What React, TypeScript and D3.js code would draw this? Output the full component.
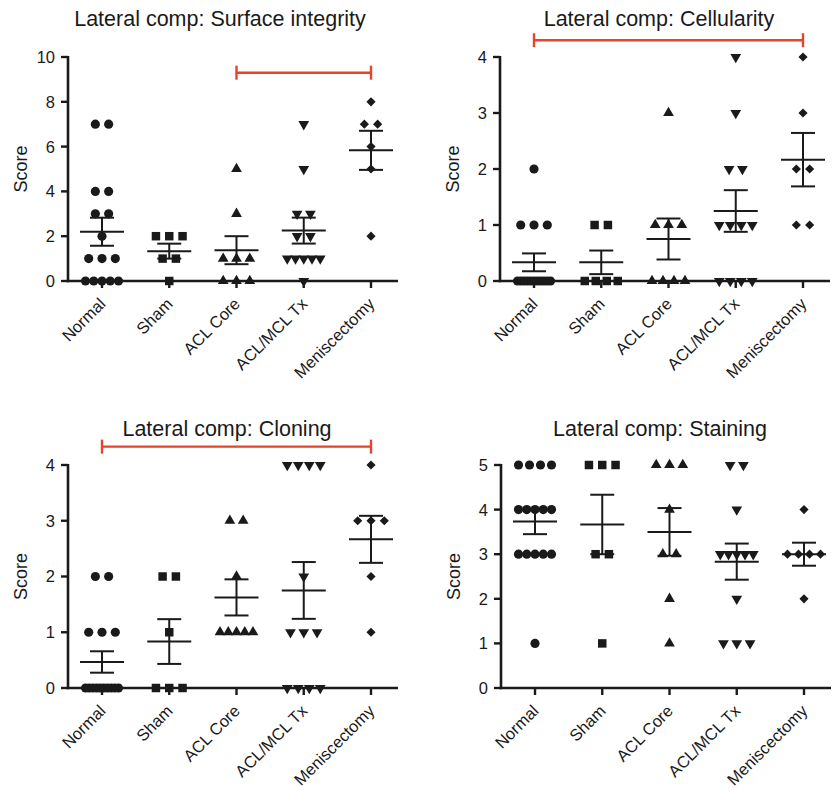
import React from "react";
import * as d3 from "d3";

const categories = ["Normal", "Sham", "ACL Core", "ACL/MCL Tx", "Meniscectomy"];

const surfaceIntegrity = [
  [7, 7, 4, 4, 3, 3, 2, 1, 1, 1, 0, 0, 0, 0, 0],
  [2, 2, 2, 1, 1, 0],
  [5, 3, 1, 1, 1, 0, 0, 0],
  [7, 5, 3, 3, 2, 2, 1, 1, 1, 1, 1, 0],
  [8, 7, 7, 6, 5, 2],
];
const cellularity = [
  [2, 1, 1, 1, 0, 0, 0, 0, 0, 0, 0, 0, 0, 0, 0],
  [1, 1, 0, 0, 0, 0],
  [3, 1, 1, 1, 0, 0, 0, 0],
  [4, 3, 2, 2, 1, 1, 1, 1, 0, 0, 0, 0],
  [4, 3, 2, 2, 1, 1],
];
const cloning = [
  [2, 2, 1, 1, 1, 0, 0, 0, 0, 0, 0, 0, 0, 0, 0],
  [2, 2, 1, 0, 0, 0],
  [3, 3, 2, 1, 1, 1, 1, 1],
  [4, 4, 4, 4, 2, 1, 1, 1, 0, 0, 0, 0],
  [4, 3, 3, 3, 2, 1],
];
const staining = [
  [5, 5, 5, 5, 4, 4, 4, 4, 4, 3, 3, 3, 3, 3, 1],
  [5, 5, 5, 3, 3, 1],
  [5, 5, 5, 4, 3, 3, 2, 1],
  [5, 5, 4, 3, 3, 3, 3, 3, 2, 1, 1, 1],
  [4, 3, 3, 3, 3, 2],
];

const titles = [
  "Lateral comp: Surface integrity",
  "Lateral comp: Cellularity",
  "Lateral comp: Cloning",
  "Lateral comp: Staining",
];
const yTicksSurface = [0, 2, 4, 6, 8, 10];
const yTicksCellularity = [0, 1, 2, 3, 4];
const yTicksCloning = [0, 1, 2, 3, 4];
const yTicksStaining = [0, 1, 2, 3, 4, 5];

// significance brackets: [fromCategoryIndex, toCategoryIndex, yValue]
const bracketSurface = [2, 4, 9.3];
const bracketCellularity = [0, 4, 4.3];
const bracketCloning = [0, 4, 4.33];

const FONT = "'Liberation Sans', Arial, Helvetica, sans-serif";
const RED = "#e8412c";
const INK = "#1a1a1a";

type Panel = {
  title: string;
  data: number[][];
  ticks: number[];
  bracket: number[] | null;
  x0: number;
  yTop: number;
  yBot: number;
  titleX: number;
  titleY: number;
};

const panels: Panel[] = [
  { title: titles[0], data: surfaceIntegrity, ticks: yTicksSurface, bracket: bracketSurface, x0: 68, yTop: 57, yBot: 281, titleX: 220, titleY: 26 },
  { title: titles[1], data: cellularity, ticks: yTicksCellularity, bracket: bracketCellularity, x0: 500, yTop: 57, yBot: 281, titleX: 659, titleY: 26 },
  { title: titles[2], data: cloning, ticks: yTicksCloning, bracket: bracketCloning, x0: 68, yTop: 465, yBot: 688, titleX: 227, titleY: 436 },
  { title: titles[3], data: staining, ticks: yTicksStaining, bracket: null, x0: 501, yTop: 465, yBot: 688, titleX: 660, titleY: 436 },
];

const symbolPaths = [
  { path: d3.symbol(d3.symbolCircle, 66)() as string, rot: 0 },
  { path: d3.symbol(d3.symbolSquare, 72)() as string, rot: 0 },
  { path: d3.symbol(d3.symbolTriangle, 50)() as string, rot: 0 },
  { path: d3.symbol(d3.symbolTriangle, 50)() as string, rot: 180 },
  { path: d3.symbol(d3.symbolSquare, 42)() as string, rot: 45 },
];

function offsets(n: number): number[] {
  const spacing = n > 1 ? Math.min(13.3, 33 / (n - 1)) : 0;
  return d3.range(n).map((i) => (i - (n - 1) / 2) * spacing);
}

function PanelView({ p }: { p: Panel }) {
  const maxV = p.ticks[p.ticks.length - 1];
  const y = d3.scaleLinear().domain([0, maxV]).range([p.yBot, p.yTop]);
  const x = d3
    .scalePoint<string>()
    .domain(categories)
    .range([p.x0 + 34, p.x0 + 303]);
  const axisEnd = p.x0 + 330;

  return (
    <g>
      <text x={p.titleX} y={p.titleY} textAnchor="middle" fontSize={21.5} fontFamily={FONT} fill={INK}>
        {p.title}
      </text>
      <text
        transform={`translate(${p.x0 - 41},${(p.yTop + p.yBot) / 2}) rotate(-90)`}
        textAnchor="middle"
        fontSize={18}
        fontFamily={FONT}
        fill={INK}
      >
        Score
      </text>
      {/* points */}
      {p.data.map((vals, ci) => {
        const cx = x(categories[ci]) as number;
        const groups = d3.groups(vals, (v) => v);
        const sym = symbolPaths[ci];
        return groups.map(([v, arr]) => {
          const offs = offsets(arr.length);
          return offs.map((o, k) => (
            <path
              key={`${ci}-${v}-${k}`}
              d={sym.path}
              transform={`translate(${cx + o},${y(v)}) rotate(${sym.rot})`}
              fill={INK}
            />
          ));
        });
      })}
      {/* axes */}
      <line x1={p.x0} x2={p.x0} y1={p.yTop - 1} y2={p.yBot + 1.2} stroke={INK} strokeWidth={2.6} />
      <line x1={p.x0 - 1.3} x2={axisEnd} y1={p.yBot} y2={p.yBot} stroke={INK} strokeWidth={2.6} />
      {p.ticks.map((t) => (
        <g key={t}>
          <line x1={p.x0 - 7} x2={p.x0} y1={y(t)} y2={y(t)} stroke={INK} strokeWidth={2.4} />
          <text x={p.x0 - 13} y={y(t)} dy="0.36em" textAnchor="end" fontSize={16.5} fontFamily={FONT} fill={INK}>
            {t}
          </text>
        </g>
      ))}
      {categories.map((c) => (
        <g key={c}>
          <line x1={x(c)} x2={x(c)} y1={p.yBot} y2={p.yBot + 7} stroke={INK} strokeWidth={2.4} />
          <text
            transform={`translate(${(x(c) as number) + 4.5},${p.yBot + 24}) rotate(-45)`}
            textAnchor="end"
            fontSize={16.5}
            fontFamily={FONT}
            fill={INK}
          >
            {c}
          </text>
        </g>
      ))}
      {/* mean and SEM */}
      {p.data.map((vals, ci) => {
        const cx = x(categories[ci]) as number;
        const m = d3.mean(vals) as number;
        const sem = (d3.deviation(vals) as number) / Math.sqrt(vals.length);
        return (
          <g key={`m${ci}`} stroke={INK} strokeWidth={2}>
            <line x1={cx - 22} x2={cx + 22} y1={y(m)} y2={y(m)} />
            <line x1={cx} x2={cx} y1={y(m + sem)} y2={y(m - sem)} />
            <line x1={cx - 12} x2={cx + 12} y1={y(m + sem)} y2={y(m + sem)} />
            <line x1={cx - 12} x2={cx + 12} y1={y(m - sem)} y2={y(m - sem)} />
          </g>
        );
      })}
      {p.bracket && (
        <g stroke={RED} strokeWidth={2.4}>
          <line
            x1={x(categories[p.bracket[0]])}
            x2={x(categories[p.bracket[1]])}
            y1={y(p.bracket[2])}
            y2={y(p.bracket[2])}
          />
          <line
            x1={x(categories[p.bracket[0]])}
            x2={x(categories[p.bracket[0]])}
            y1={y(p.bracket[2]) - 7}
            y2={y(p.bracket[2]) + 7}
          />
          <line
            x1={x(categories[p.bracket[1]])}
            x2={x(categories[p.bracket[1]])}
            y1={y(p.bracket[2]) - 7}
            y2={y(p.bracket[2]) + 7}
          />
        </g>
      )}
    </g>
  );
}

export default function App() {
  return (
    <svg
      width={838}
      height={790}
      viewBox="0 0 838 790"
      style={{ position: "absolute", left: 0, top: 0, background: "#fff" }}
    >
      <rect x={0} y={0} width={838} height={790} fill="#fff" />
      {panels.map((p, i) => (
        <PanelView key={i} p={p} />
      ))}
    </svg>
  );
}
